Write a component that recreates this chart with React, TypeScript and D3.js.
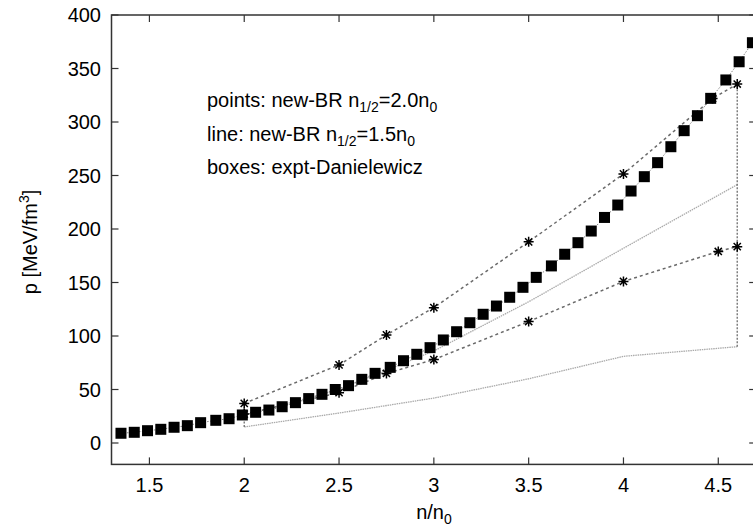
import React from "react";
import * as d3 from "d3";

const W = 753;
const H = 532;

// Experimental boxes (Danielewicz)
const boxX = [1.35, 1.42, 1.49, 1.56, 1.63, 1.70, 1.77, 1.85, 1.92, 1.99, 2.06, 2.13, 2.20, 2.27, 2.34, 2.41, 2.48, 2.55, 2.62, 2.69, 2.77, 2.84, 2.91, 2.98, 3.05, 3.12, 3.19, 3.26, 3.33, 3.40, 3.47, 3.54, 3.62, 3.69, 3.76, 3.83, 3.90, 3.97, 4.04, 4.11, 4.18, 4.25, 4.32, 4.39, 4.46, 4.54, 4.61, 4.68];
const boxY = [9.1, 10.0, 11.5, 12.8, 14.7, 16.2, 19.0, 21.2, 22.7, 26.2, 28.7, 30.8, 33.9, 37.7, 41.5, 45.5, 50.0, 53.6, 59.5, 65.1, 70.7, 76.9, 82.9, 89.1, 96.3, 104.0, 112.4, 120.3, 128.0, 136.2, 145.5, 154.8, 165.5, 176.4, 187.2, 198.1, 210.8, 222.4, 235.5, 248.9, 262.0, 276.9, 291.9, 305.9, 322.1, 339.3, 356.3, 374.1];

// points: new-BR n1/2 = 2.0 n0 (upper and lower)
const ptUpperX = [2.0, 2.5, 2.75, 3.0, 3.5, 4.0, 4.47, 4.6];
const ptUpperY = [37, 73, 101, 126.5, 188, 251.5, 322, 335.5];
const ptLowerX = [2.0, 2.5, 2.75, 3.0, 3.5, 4.0, 4.5, 4.6];
const ptLowerY = [27, 47, 65, 78, 113.5, 151, 179, 183.5];

// line: new-BR n1/2 = 1.5 n0 (upper and lower)
const lnUpperX = [2.0, 2.5, 3.0, 3.5, 4.0, 4.6];
const lnUpperY = [26, 50, 86, 132, 182, 241.5];
const lnLowerX = [2.0, 2.5, 3.0, 3.5, 4.0, 4.6];
const lnLowerY = [15, 28, 42, 60, 81, 90];

// closing verticals
const vertX = [2.0, 4.6];
const vertLo = [15, 90];
const vertHi = [37, 335.5];

const xTicks = [1.5, 2, 2.5, 3, 3.5, 4, 4.5];
const yTicks = [0, 50, 100, 150, 200, 250, 300, 350, 400];

const FONT = "'Liberation Sans', Arial, sans-serif";
const FS = 20;
const SUB = 14;

export default function App() {
  const x = d3.scaleLinear().domain([1.3, 4.7]).range([111.5, 756.2]);
  const y = d3.scaleLinear().domain([-20, 400]).range([464.4, 15]);
  const left = x(1.3), right = x(4.7), top = y(400), bottom = y(-20);

  const line = d3.line<[number, number]>().x(d => x(d[0])).y(d => y(d[1]));
  const zip = (a: number[], b: number[]) => a.map((v, i) => [v, b[i]] as [number, number]);

  const star = (cx: number, cy: number, r = 5) => {
    const d = r * 0.72;
    return `M${cx - r},${cy}L${cx + r},${cy}M${cx},${cy - r}L${cx},${cy + r}M${cx - d},${cy - d}L${cx + d},${cy + d}M${cx - d},${cy + d}L${cx + d},${cy - d}`;
  };

  const tick = 7;
  const boxSize = 11;

  return (
    <svg width={W} height={H} style={{ position: "absolute", left: 0, top: 0, background: "#fff" }} fontFamily={FONT}>
      <rect x={0} y={0} width={W} height={H} fill="#fff" />
      {/* light lines */}
      <path d={line(zip(lnUpperX, lnUpperY)) || ""} fill="none" stroke="#aaa" strokeWidth={1.3} strokeDasharray="1.5,0.8" />
      <path d={line(zip(lnLowerX, lnLowerY)) || ""} fill="none" stroke="#aaa" strokeWidth={1.3} strokeDasharray="1.5,0.8" />
      {/* verticals */}
      {vertX.map((v, i) => (
        <line key={"v" + i} x1={x(v)} x2={x(v)} y1={y(vertLo[i])} y2={y(vertHi[i])} stroke="#777" strokeWidth={1.4} strokeDasharray="2,1.5" />
      ))}
      {/* dashed star lines */}
      <path d={line(zip(ptUpperX, ptUpperY)) || ""} fill="none" stroke="#6a6a6a" strokeWidth={1.5} strokeDasharray="3,3" />
      <path d={line(zip(ptLowerX, ptLowerY)) || ""} fill="none" stroke="#6a6a6a" strokeWidth={1.5} strokeDasharray="3,3" />
      {/* box connecting line */}
      <path d={line(zip(boxX, boxY)) || ""} fill="none" stroke="#888" strokeWidth={1} strokeDasharray="1.5,1.5" />
      {/* boxes */}
      {boxX.map((v, i) => (
        <rect key={"b" + i} x={x(v) - boxSize / 2} y={y(boxY[i]) - boxSize / 2} width={boxSize} height={boxSize} fill="#000" />
      ))}
      {ptUpperX.map((v, i) => (
        <path key={"su" + i} d={star(x(v), y(ptUpperY[i]))} stroke="#000" strokeWidth={1.5} fill="none" />
      ))}
      {ptLowerX.map((v, i) => (
        <path key={"sl" + i} d={star(x(v), y(ptLowerY[i]))} stroke="#000" strokeWidth={1.5} fill="none" />
      ))}
      {/* frame */}
      <rect x={left} y={top} width={right - left} height={bottom - top} fill="none" stroke="#333" strokeWidth={1.5} />
      {/* x ticks */}
      {xTicks.map(t => (
        <g key={"xt" + t}>
          <line x1={x(t)} x2={x(t)} y1={bottom} y2={bottom - tick} stroke="#333" strokeWidth={1.2} />
          <line x1={x(t)} x2={x(t)} y1={top} y2={top + tick} stroke="#333" strokeWidth={1.2} />
          <text x={x(t)} y={492} textAnchor="middle" fontSize={FS} fill="#000">{t}</text>
        </g>
      ))}
      {/* y ticks */}
      {yTicks.map(t => (
        <g key={"yt" + t}>
          <line x1={left} x2={left + tick} y1={y(t)} y2={y(t)} stroke="#333" strokeWidth={1.2} />
          <line x1={right} x2={right - tick} y1={y(t)} y2={y(t)} stroke="#333" strokeWidth={1.2} />
          <text x={101} y={y(t) + 7.2} textAnchor="end" fontSize={FS} fill="#000">{t}</text>
        </g>
      ))}
      {/* axis labels */}
      <text x={434} y={519} textAnchor="middle" fontSize={FS} fill="#000">
        n/n<tspan fontSize={SUB} dy={5}>0</tspan>
      </text>
      <text transform={`translate(37,242) rotate(-90)`} textAnchor="middle" fontSize={FS} fill="#000">
        p  [MeV/fm<tspan fontSize={SUB} dy={-8}>3</tspan><tspan dy={8}>]</tspan>
      </text>
      {/* legend text */}
      <text x={207} y={107} fontSize={FS} fill="#000">
        points: new-BR n<tspan fontSize={SUB} dy={5}>1/2</tspan><tspan dy={-5}>=2.0n</tspan><tspan fontSize={SUB} dy={5}>0</tspan>
      </text>
      <text x={207} y={140.5} fontSize={FS} fill="#000">
        line: new-BR n<tspan fontSize={SUB} dy={5}>1/2</tspan><tspan dy={-5}>=1.5n</tspan><tspan fontSize={SUB} dy={5}>0</tspan>
      </text>
      <text x={207} y={174} fontSize={FS} fill="#000">boxes: expt-Danielewicz</text>
    </svg>
  );
}
